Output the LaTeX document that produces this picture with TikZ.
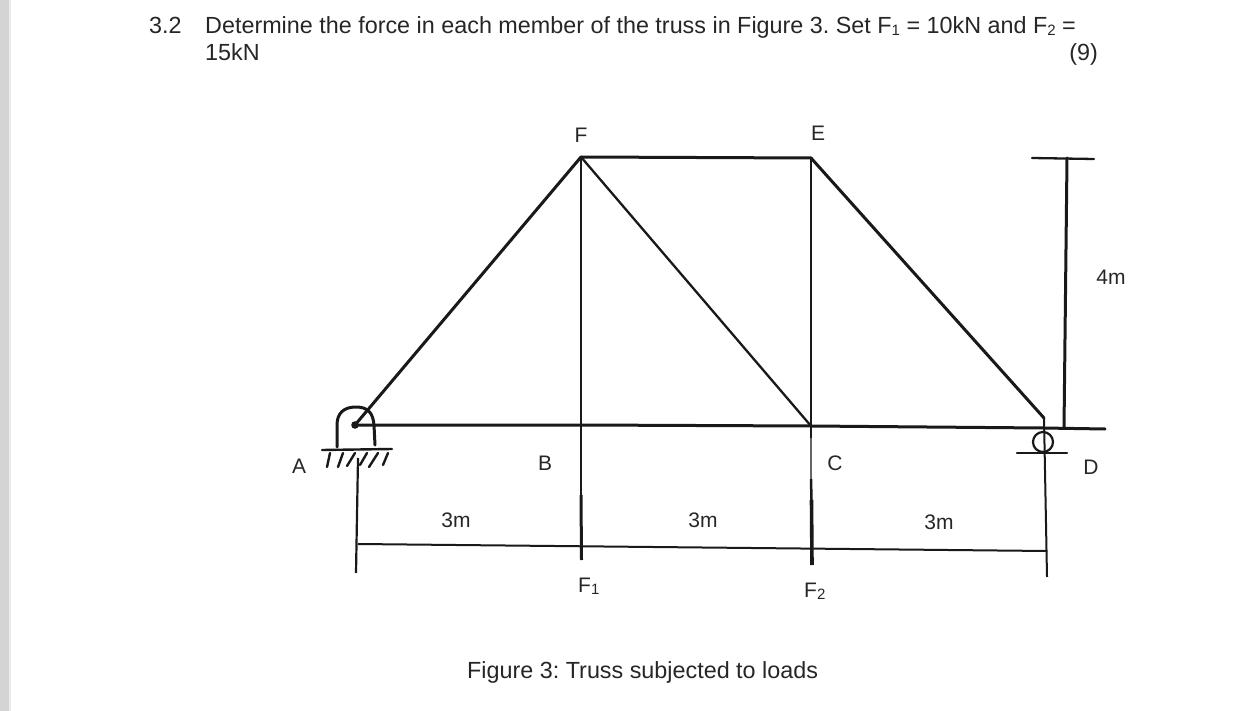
\documentclass[tikz,border=0pt]{standalone}
\usepackage{fontspec}
\setmainfont{Liberation Sans}
\newcommand{\subs}[1]{\raisebox{-2.3pt}{\fontsize{15}{15}\selectfont #1}}
\begin{document}
\frenchspacing
\begin{tikzpicture}[x=1pt,y=-1pt,
  txt/.style={inner sep=0pt,font=\fontsize{23.35}{26}\selectfont,text=black!85,anchor=base west},
  lab/.style={inner sep=0pt,font=\fontsize{21}{24}\selectfont,text=black!85,anchor=base},
  member/.style={line width=3pt,black!90,line cap=round},
  thinm/.style={line width=2.3pt,black!90,line cap=round},
  hand/.style={line width=3pt,black!90,line cap=round,line join=round}]
\useasboundingbox (0,0) rectangle (1255,711);
\fill[black!17] (0,0) rectangle (9,711);
\fill[black!8] (9,0) rectangle (11,711);
% text
\node[txt] (num) at (149,33.5) {3.2};
\node[txt] (q1) at (205,33.5) {Determine the force in each member of the truss in Figure 3. Set F\subs{1} = 10kN and F\subs{2} =};
\node[txt] (q2) at (205,61) {15kN};
\node[txt,anchor=base east] (marks) at (1098,61) {(9)};
\node[txt] (cap) at (467,678) {Figure 3: Truss subjected to loads};
\node[lab] (lF) at (581,143) {F};
\node[lab] (lE) at (818,141) {E};
\node[lab] (l4) at (1111,284) {4m};
\node[lab] (lA) at (299,473) {A};
\node[lab] (lB) at (545,470) {B};
\node[lab] (lC) at (835,470) {C};
\node[lab] (lD) at (1091,474) {D};
\node[lab] (l3a) at (456,527) {3m};
\node[lab] (l3b) at (703,527) {3m};
\node[lab] (l3c) at (939,529) {3m};
\node[lab,anchor=base west] (lF1) at (578,592) {F\subs{1}};
\node[lab,anchor=base west] (lF2) at (804,597) {F\subs{2}};
% joints
\coordinate (A) at (355,425);
\coordinate (B) at (581,425);
\coordinate (C) at (811,426);
\coordinate (D) at (1043,428);
\coordinate (F) at (581,157);
\coordinate (E) at (811,158);
\coordinate (Tl) at (1032,158);
\coordinate (Tr) at (1094,159);
\coordinate (Tm) at (1067,158);
\coordinate (Tb) at (1064,428);
\coordinate (Hr) at (1105,429);
\coordinate (Da) at (358,458);
\coordinate (Db) at (356,573);
\coordinate (Fb) at (581.5,560);
\coordinate (Cb) at (812,565);
\coordinate (Dt) at (1044,418);
\coordinate (Dd) at (1047,577);
\coordinate (Ml) at (358,544);
\coordinate (Mr) at (1047,551);
% truss
\draw[member] (A) -- (F);
\draw[member] (F) -- (E);
\draw[member] (E) -- (Dt);
\draw[thinm] (F) -- (C);
\draw[thinm] (F) -- (B);
\draw[thinm] (E) -- (C);
\draw[member] (A) -- (B) -- (C) -- (D) -- (Hr);
% right dimension
\draw[thinm] (Tl) -- (Tr);
\draw[member] (Tm) -- (Tb);
% extension lines
\draw[line width=2.2pt,black!90] (Da) -- (Db);
\draw[line width=2.3pt,black!90] (B) -- (581,495);
\draw[line width=3pt,black!90] (581,495) -- (Fb);
\draw[line width=2.5pt,black!90] (C) -- (811,438);
\draw[line width=1.3pt,black!60] (811,438) -- (811,479);
\draw[line width=2.5pt,black!90] (811,479) -- (811.5,500);
\draw[line width=3.6pt,black!90] (811.5,500) -- (Cb);
\draw[line width=2pt,black!90] (Dt) -- (Dd);
\draw[line width=2pt,black!90] (Ml) -- (Mr);
% pin support at A
\draw[hand] (337,447) -- (337,425) .. controls (337,413) and (344,407) .. (356,407) .. controls (368,407) and (373,413) .. (374,425) -- (375,445);
\fill[black!90] (A) circle (3.8pt);
\draw[hand,line width=2.4pt] (322,450) -- (392,449);
\foreach \a/\b/\c/\d in {330/453/327/467,343/453/338/467,355/453/347/466,367/453/360/465,378/453/369/467,388/453/383/465}
  \draw[hand,line width=2.4pt] (\a,\b) -- (\c,\d);
% roller support at D
\draw[line width=2.2pt,black!90] (1043,442) circle (10pt);
\draw[thinm] (1017,453) -- (1067,453);
\end{tikzpicture}
\end{document}
